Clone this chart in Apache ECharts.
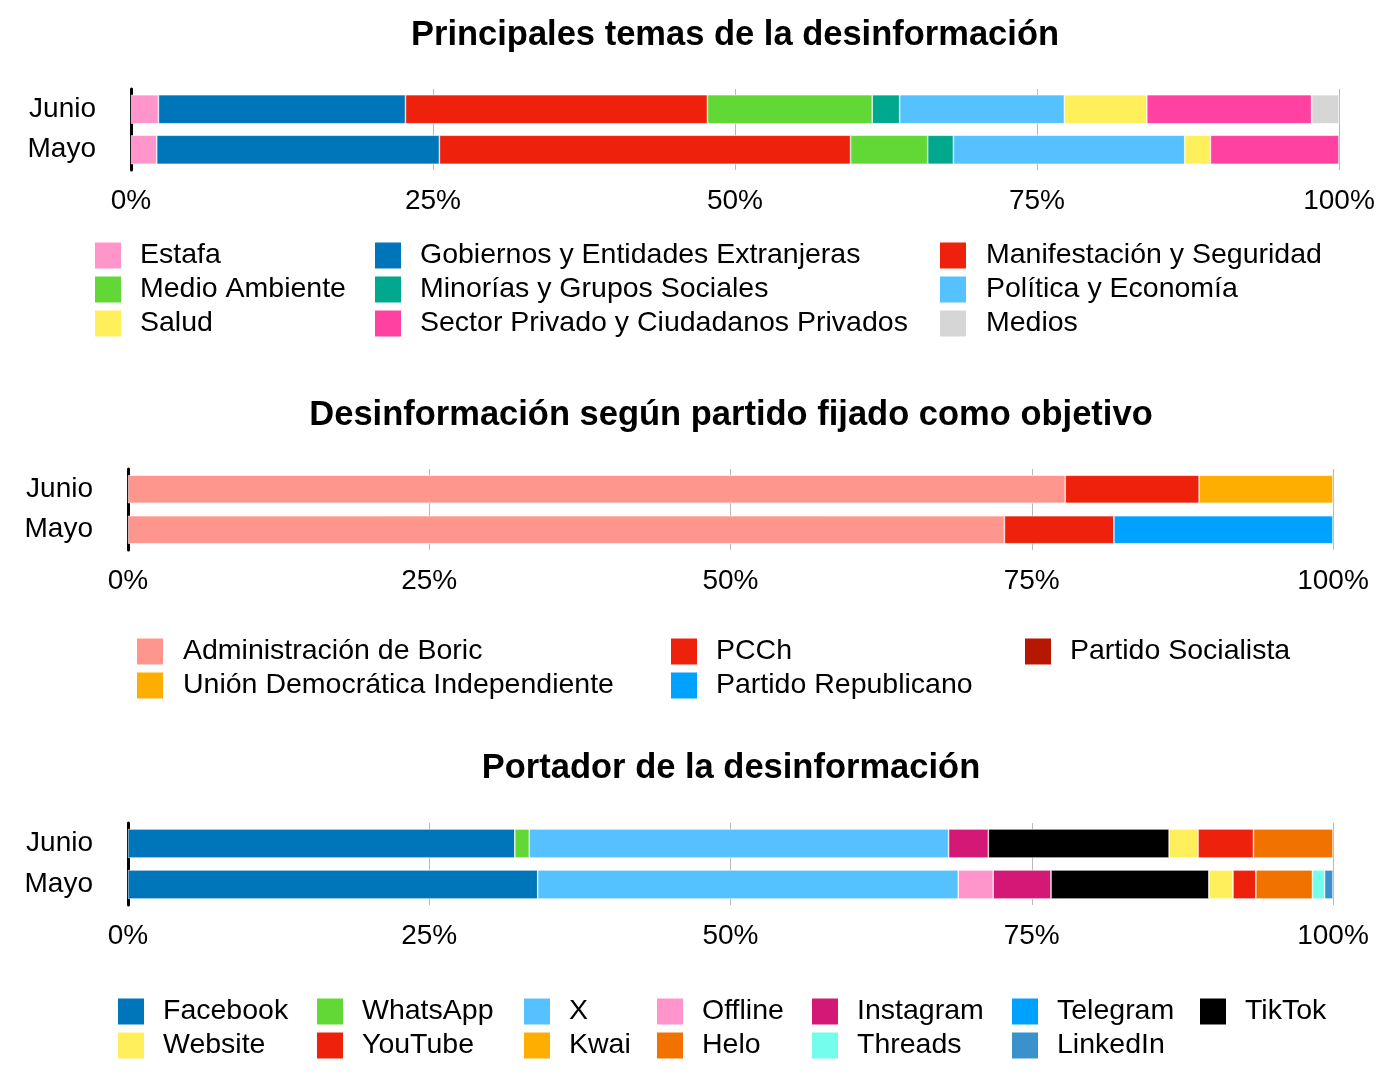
<!DOCTYPE html>
<html>
<head>
<meta charset="utf-8">
<script src="https://cdn.jsdelivr.net/npm/echarts@6/dist/echarts.min.js"></script>
<style>
  html, body { margin: 0; padding: 0; background: #fff; }
  #main { width: 1400px; height: 1085px; }
</style>
</head>
<body>
<div id="main"></div>
<script>
// datos (porcentajes)
var months = ['Junio', 'Mayo'];

var temas = ['Estafa', 'Gobiernos y Entidades Extranjeras', 'Manifestación y Seguridad',
  'Medio Ambiente', 'Minorías y Grupos Sociales', 'Política y Economía',
  'Salud', 'Sector Privado y Ciudadanos Privados', 'Medios'];
var temasJunio = [2.27, 20.45, 25.0, 13.64, 2.27, 13.64, 6.82, 13.64, 2.27];
var temasMayo = [2.13, 23.40, 34.04, 6.38, 2.13, 19.15, 2.13, 10.64, 0];
var temasColors = ['#FF95CA', '#0076BA', '#EE220C', '#61D836', '#00A88E', '#56C1FF',
  '#FFEF5A', '#FF42A1', '#D6D6D6'];

var partidos = ['Administración de Boric', 'PCCh', 'Partido Socialista',
  'Unión Democrática Independiente', 'Partido Republicano'];
var partidosJunio = [77.78, 11.11, 0, 11.11, 0];
var partidosMayo = [72.73, 9.09, 0, 0, 18.18];
var partidosColors = ['#FF968D', '#EE220C', '#B51700', '#FEAE00', '#00A2FF'];

var portadores = ['Facebook', 'WhatsApp', 'X', 'Offline', 'Instagram', 'Telegram', 'TikTok',
  'Website', 'YouTube', 'Kwai', 'Helo', 'Threads', 'LinkedIn'];
var portadoresJunio = [32.1, 1.2, 34.8, 0, 3.3, 0, 15.0, 2.4, 4.6, 0, 6.6, 0, 0];
var portadoresMayo = [34.0, 0, 34.9, 2.9, 4.8, 0, 13.1, 2.0, 1.9, 0, 4.7, 1.0, 0.7];
var portadoresColors = ['#0076BA', '#61D836', '#56C1FF', '#FF95CA', '#D31876', '#00A2FF', '#000000',
  '#FFEF5A', '#EE220C', '#FEAE00', '#F27200', '#73FDEA', '#3A91CB'];

var FONT = 'Liberation Sans';

var grids = [
  { left: 131, right: 61, top: 89, height: 81 },
  { left: 128, right: 67, top: 469, height: 81 },
  { left: 128, right: 67, top: 823, height: 82 }
];
var titles = [
  { text: 'Principales temas de la desinformación', x: 735, y: 35 },
  { text: 'Desinformación según partido fijado como objetivo', x: 731, y: 415 },
  { text: 'Portador de la desinformación', x: 731, y: 768 }
];

function makeX(i) {
  return {
    type: 'value', gridIndex: i, min: 0, max: 100, interval: 25,
    axisLine: { show: false }, axisTick: { show: false },
    axisLabel: { formatter: '{value}%', fontFamily: FONT, fontSize: 28, color: '#000', margin: 17 },
    splitLine: { lineStyle: { color: '#B8B8B8', width: 1 } }
  };
}
function makeY(i) {
  return {
    type: 'category', gridIndex: i, data: months, inverse: true,
    axisLine: { lineStyle: { color: '#000', width: 3 } },
    axisTick: { show: false },
    axisLabel: { fontFamily: FONT, fontSize: 28, color: '#000', margin: 35 }
  };
}

function makeSeries(names, junio, mayo, colors, idx, barWidth) {
  return names.map(function (n, k) {
    return {
      name: n, type: 'bar', stack: 'c' + idx, xAxisIndex: idx, yAxisIndex: idx,
      barWidth: barWidth,
      itemStyle: { color: colors[k], borderColor: '#fff', borderWidth: 0.6 },
      data: [junio[k], mayo[k]].map(function (v) { return v === 0 ? '-' : v; })
    };
  });
}

function makeLegend(names, left, top, pad) {
  return {
    data: names, orient: 'vertical', left: left, top: top, padding: 0,
    icon: 'rect', itemWidth: 26, itemHeight: 26, itemGap: 5,
    selectedMode: false,
    itemStyle: { borderWidth: 0 },
    textStyle: { fontFamily: FONT, fontSize: 28.5, color: '#000', lineHeight: 26, padding: [0, 0, 0, pad] }
  };
}

var legends = [
  makeLegend([temas[0], temas[3], temas[6]], 95, 241, 14),
  makeLegend([temas[1], temas[4], temas[7]], 375, 241, 14),
  makeLegend([temas[2], temas[5], temas[8]], 940, 241, 15),
  makeLegend([partidos[0], partidos[3]], 137, 637, 15),
  makeLegend([partidos[1], partidos[4]], 671, 637, 14),
  makeLegend([partidos[2]], 1025, 637, 14)
];
var cols3 = [118, 317, 524, 657, 812, 1012, 1200];
cols3.forEach(function (x, c) {
  var names = [portadores[c]];
  if (portadores[c + 7]) names.push(portadores[c + 7]);
  legends.push(makeLegend(names, x, 997, 14));
});

var chart = echarts.init(document.getElementById('main'));
chart.setOption({
  backgroundColor: '#fff',
  animation: false,
  graphic: titles.map(function (t) {
    return {
      type: 'text', x: t.x, y: t.y,
      style: { text: t.text, fontFamily: FONT, fontSize: 34.5, fontWeight: 'bold', fill: '#000',
        textAlign: 'center', textVerticalAlign: 'middle' }
    };
  }),
  grid: grids,
  xAxis: [makeX(0), makeX(1), makeX(2)],
  yAxis: [makeY(0), makeY(1), makeY(2)],
  legend: legends,
  series: []
    .concat(makeSeries(temas, temasJunio, temasMayo, temasColors, 0, 29))
    .concat(makeSeries(partidos, partidosJunio, partidosMayo, partidosColors, 1, 28))
    .concat(makeSeries(portadores, portadoresJunio, portadoresMayo, portadoresColors, 2, 29))
});
</script>
</body>
</html>
